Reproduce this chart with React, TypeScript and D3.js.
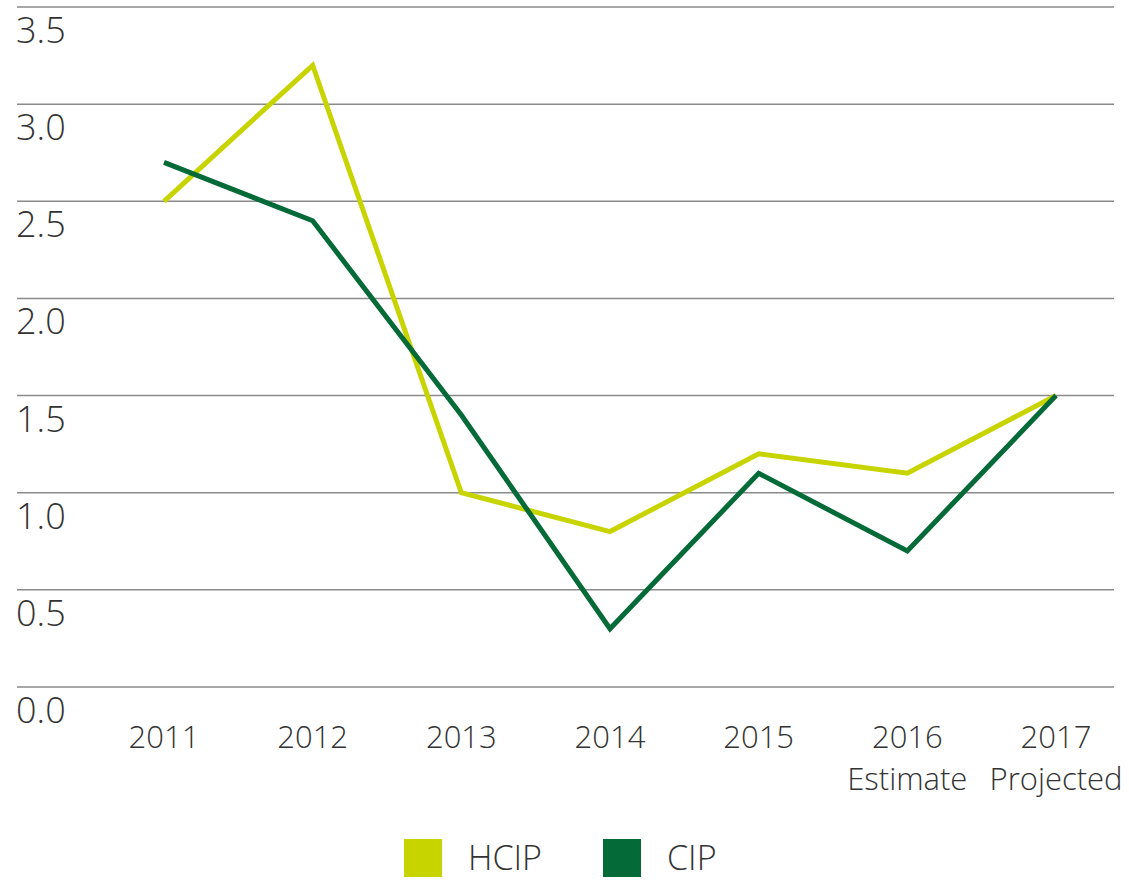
import React, { useEffect, useRef } from "react";
import * as d3 from "d3";

const years = ["2011", "2012", "2013", "2014", "2015", "2016", "2017"];
const subLabels = ["", "", "", "", "", "Estimate", "Projected"];
const hcip = [2.5, 3.2, 1.0, 0.8, 1.2, 1.1, 1.5];
const cip = [2.7, 2.4, 1.4, 0.3, 1.1, 0.7, 1.5];
const yTicks = [0, 0.5, 1.0, 1.5, 2.0, 2.5, 3.0, 3.5];

const seriesNames = ["HCIP", "CIP"];
const seriesColors = ["#c8d400", "#046a38"];

const font = "'Open Sans', sans-serif";

export default function App() {
  const ref = useRef<SVGSVGElement>(null);

  useEffect(() => {
    const svg = d3.select(ref.current);
    svg.selectAll("*").remove();

    // scales
    const x = d3.scalePoint<string>().domain(years).range([164, 1056]);
    const y = d3.scaleLinear().domain([0, 3.5]).range([687, 7]);

    // grid lines + y labels
    const grid = svg.append("g");
    grid.selectAll("line")
      .data(yTicks)
      .enter()
      .append("line")
      .attr("x1", 17)
      .attr("x2", 1114)
      .attr("y1", (d) => y(d))
      .attr("y2", (d) => y(d))
      .attr("stroke", "#8a8a8a")
      .attr("stroke-width", 1.5);

    grid.selectAll("text")
      .data(yTicks)
      .enter()
      .append("text")
      .attr("x", 16)
      .attr("y", (d) => y(d) + 36)
      .attr("font-family", font)
      .attr("font-weight", 300)
      .attr("font-size", 36)
      .attr("fill", "#333")
      .text((d) => d3.format(".1f")(d));

    // x labels
    const xl = svg.append("g")
      .attr("font-family", font)
      .attr("font-weight", 300)
      .attr("font-size", 31)
      .attr("fill", "#333")
      .attr("text-anchor", "middle");
    xl.selectAll("text.year")
      .data(years)
      .enter()
      .append("text")
      .attr("class", "year")
      .attr("x", (d) => x(d)!)
      .attr("y", 748)
      .text((d) => d);
    xl.selectAll("text.sub")
      .data(years.map((d, i) => ({ year: d, label: subLabels[i] })))
      .enter()
      .append("text")
      .attr("class", "sub")
      .attr("x", (d) => x(d.year)!)
      .attr("y", 790)
      .text((d) => d.label);

    // lines
    const line = d3.line<number>()
      .x((d, i) => x(years[i])!)
      .y((d) => y(d));

    [hcip, cip].forEach((vals, i) => {
      svg.append("path")
        .datum(vals)
        .attr("d", line)
        .attr("fill", "none")
        .attr("stroke", seriesColors[i])
        .attr("stroke-width", 5)
        .attr("stroke-linejoin", "miter");
    });

    // legend
    const legendX = [404, 603];
    const lg = svg.append("g");
    seriesNames.forEach((name, i) => {
      lg.append("rect")
        .attr("x", legendX[i])
        .attr("y", 839)
        .attr("width", 38)
        .attr("height", 38)
        .attr("fill", seriesColors[i]);
      lg.append("text")
        .attr("x", legendX[i] + 64)
        .attr("y", 870)
        .attr("font-family", font)
        .attr("font-weight", 300)
        .attr("font-size", 34)
        .attr("fill", "#333")
        .text(name);
    });
  }, []);

  return (
    <svg
      ref={ref}
      width={1129}
      height={880}
      style={{ position: "absolute", left: 0, top: 0, background: "#fff" }}
    />
  );
}
